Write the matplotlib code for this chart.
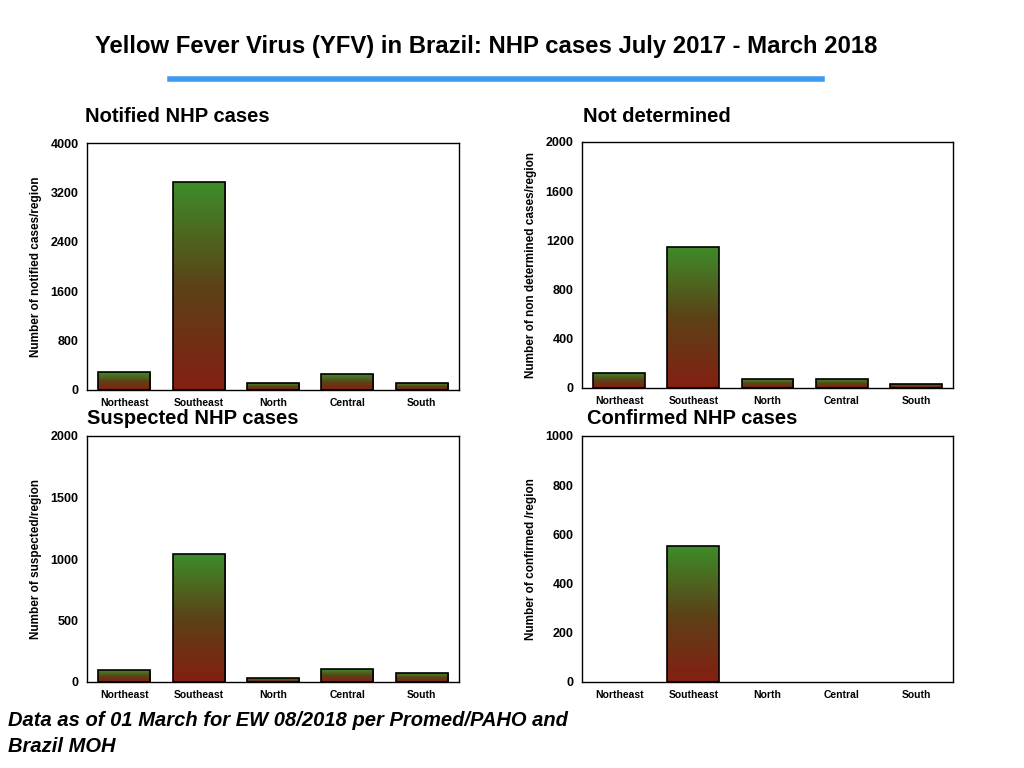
import matplotlib
matplotlib.use("Agg")
import matplotlib.pyplot as plt
import numpy as np
from matplotlib.colors import LinearSegmentedColormap

plt.rcParams['font.family'] = ['Liberation Sans', 'DejaVu Sans']

regions = ["Northeast", "Southeast", "North", "Central", "South"]
notified = [286, 3367, 108, 254, 108]
not_determined = [125, 1150, 70, 70, 35]
suspected = [95, 1039, 30, 103, 70]
confirmed = [0, 551, 0, 0, 0]

panel_titles = ["Notified NHP cases", "Not determined", "Suspected NHP cases", "Confirmed NHP cases"]
ylabels = ["Number of notified cases/region", "Number of non determined cases/region",
           "Number of suspected/region", "Number of confirmed /region"]
yticks = [[0, 800, 1600, 2400, 3200, 4000], [0, 400, 800, 1200, 1600, 2000],
          [0, 500, 1000, 1500, 2000], [0, 200, 400, 600, 800, 1000]]
series = [notified, not_determined, suspected, confirmed]

W, H = 1024, 768
fig = plt.figure(figsize=(W / 100, H / 100), dpi=100)

def px_axes(l, t, r, b):
    return fig.add_axes([l / W, 1 - b / H, (r - l) / W, (b - t) / H])

boxes = [(87, 143, 459, 390), (582, 142, 953, 388), (87, 436, 459, 682), (582, 436, 953, 682)]
title_pos = [(85, 116), (583, 116), (87, 419), (587, 419)]

cmap = LinearSegmentedColormap.from_list("gr", [(0.52, 0.12, 0.07), (0.36, 0.26, 0.09), (0.24, 0.55, 0.16)])
grad = np.linspace(0, 1, 256).reshape(-1, 1)

for i, box in enumerate(boxes):
    ax = px_axes(*box)
    vals = series[i]
    x = np.arange(len(regions))
    lws = [1.2 if v > 0 else 0 for v in vals]
    bars = ax.bar(x, vals, width=0.7, color="none", edgecolor="black", linewidth=lws, zorder=3)
    ymax = yticks[i][-1]
    for b, v in zip(bars, vals):
        if v <= 0:
            continue
        im = ax.imshow(grad, cmap=cmap, aspect="auto", origin="lower",
                       extent=[b.get_x(), b.get_x() + b.get_width(), 0, v], zorder=2)
        im.set_clip_path(b)
    ax.set_xlim(-0.5, 4.5)
    ax.set_ylim(0, ymax)
    ax.set_yticks(yticks[i])
    ax.set_yticklabels([str(t) for t in yticks[i]], fontsize=9, fontweight="bold")
    ax.set_xticks(x)
    ax.set_xticklabels(regions, fontsize=7.5, fontweight="bold")
    ax.tick_params(length=0, pad=6)
    ax.set_ylabel(ylabels[i], fontsize=8.5, fontweight="bold", labelpad=6)
    for s in ax.spines.values():
        s.set_linewidth(1.0)
    tx, ty = title_pos[i]
    fig.text(tx / W, 1 - ty / H, panel_titles[i], fontsize=14.5, fontweight="bold", va="center", ha="left")

fig.text(486 / W, 1 - 46 / H, "Yellow Fever Virus (YFV) in Brazil: NHP cases July 2017 - March 2018",
         fontsize=17.2, fontweight="bold", ha="center", va="center")
fig.add_artist(plt.Line2D([170 / W, 822 / W], [1 - 79 / H, 1 - 79 / H], color="#3d9cf0", linewidth=4))

fig.text(8 / W, 1 - 721 / H, "Data as of 01 March for EW 08/2018 per Promed/PAHO and",
         fontsize=14.5, fontweight="bold", style="italic", ha="left", va="center")
fig.text(8 / W, 1 - 746 / H, "Brazil MOH",
         fontsize=14.5, fontweight="bold", style="italic", ha="left", va="center")

fig.savefig("out.png", dpi=100)
